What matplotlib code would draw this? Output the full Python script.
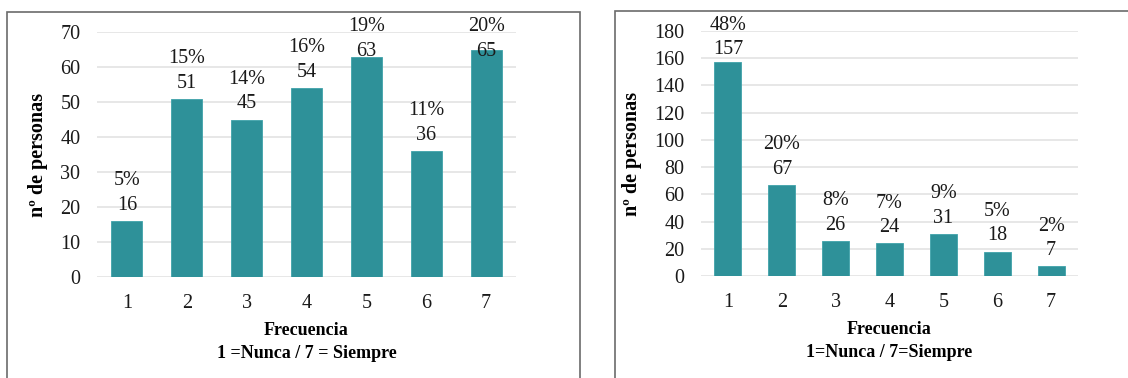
import matplotlib
matplotlib.use("Agg")
import matplotlib.pyplot as plt
from matplotlib.patches import Rectangle

plt.rcParams['font.family'] = ['Liberation Serif', 'DejaVu Serif']

categories = [1, 2, 3, 4, 5, 6, 7]
left_counts = [16, 51, 45, 54, 63, 36, 65]
left_pcts = ["5%", "15%", "14%", "16%", "19%", "11%", "20%"]
right_counts = [157, 67, 26, 24, 31, 18, 7]
right_pcts = ["48%", "20%", "8%", "7%", "9%", "5%", "2%"]
left_yticks = [0, 10, 20, 30, 40, 50, 60, 70]
right_yticks = [0, 20, 40, 60, 80, 100, 120, 140, 160, 180]
left_xlabel = "Frecuencia\n1 =Nunca / 7 = Siempre"
right_xlabel = "Frecuencia\n1=Nunca / 7=Siempre"
ylabel = "nº de personas"

BAR = "#2E9199"
GRID = "#E3E3E3"
W, H = 1128, 378

fig = plt.figure(figsize=(W / 100, H / 100), dpi=100)

def px_axes(x0, x1, ytop, ybot):
    return fig.add_axes([x0 / W, 1 - ybot / H, (x1 - x0) / W, (ybot - ytop) / H])

# panel borders
fig.patches.append(Rectangle((7 / W, -0.05), (580 - 7) / W, 1.05 - 12 / H,
                             transform=fig.transFigure, fill=False,
                             edgecolor="#6b6b6b", linewidth=1.2))
fig.patches.append(Rectangle((615 / W, -0.05), (1140 - 615) / W, 1.05 - 11 / H,
                             transform=fig.transFigure, fill=False,
                             edgecolor="#6b6b6b", linewidth=1.2))

def draw(ax, counts, pcts, yticks, xlabel, width):
    ax.bar(categories, counts, width=width, color=BAR, edgecolor="#3FA3AA",
           linewidth=0.6, zorder=3)
    ax.set_xlim(0.5, 7.5)
    ax.set_ylim(yticks[0], yticks[-1])
    ax.set_yticks(yticks)
    ax.set_xticks(categories)
    ax.grid(axis="y", color=GRID, linewidth=1.2, zorder=0)
    for s in ax.spines.values():
        s.set_visible(False)
    ax.tick_params(length=0, labelsize=14.5, colors="#1a1a1a")
    ax.tick_params(axis="x", pad=12)
    ax.tick_params(axis="y", pad=12)
    ax.set_xlabel(xlabel, fontsize=13, fontweight="bold", labelpad=7,
                  linespacing=1.45)
    ax.set_ylabel(ylabel, fontsize=14.5, fontweight="bold", labelpad=9)
    fig.canvas.draw()
    top_px = ax.transData.transform((0, yticks[-1]))[1]
    inv = ax.transData.inverted()
    for x, v, p in zip(categories, counts, pcts):
        bx, by = ax.transData.transform((x, v))
        ty = min(by + 11, top_px - 23.5)
        _, yd = inv.transform((bx, ty))
        ax.text(x, yd, f"{p}\n{v}", ha="center", va="baseline", fontsize=14.5,
                linespacing=1.4, color="#1a1a1a", zorder=4, clip_on=False)

axL = px_axes(97, 516, 32, 277)
draw(axL, left_counts, left_pcts, left_yticks, left_xlabel, 0.52)
axR = px_axes(701, 1078, 31, 276)
draw(axR, right_counts, right_pcts, right_yticks, right_xlabel, 0.5)

fig.savefig("out.png", dpi=100)
